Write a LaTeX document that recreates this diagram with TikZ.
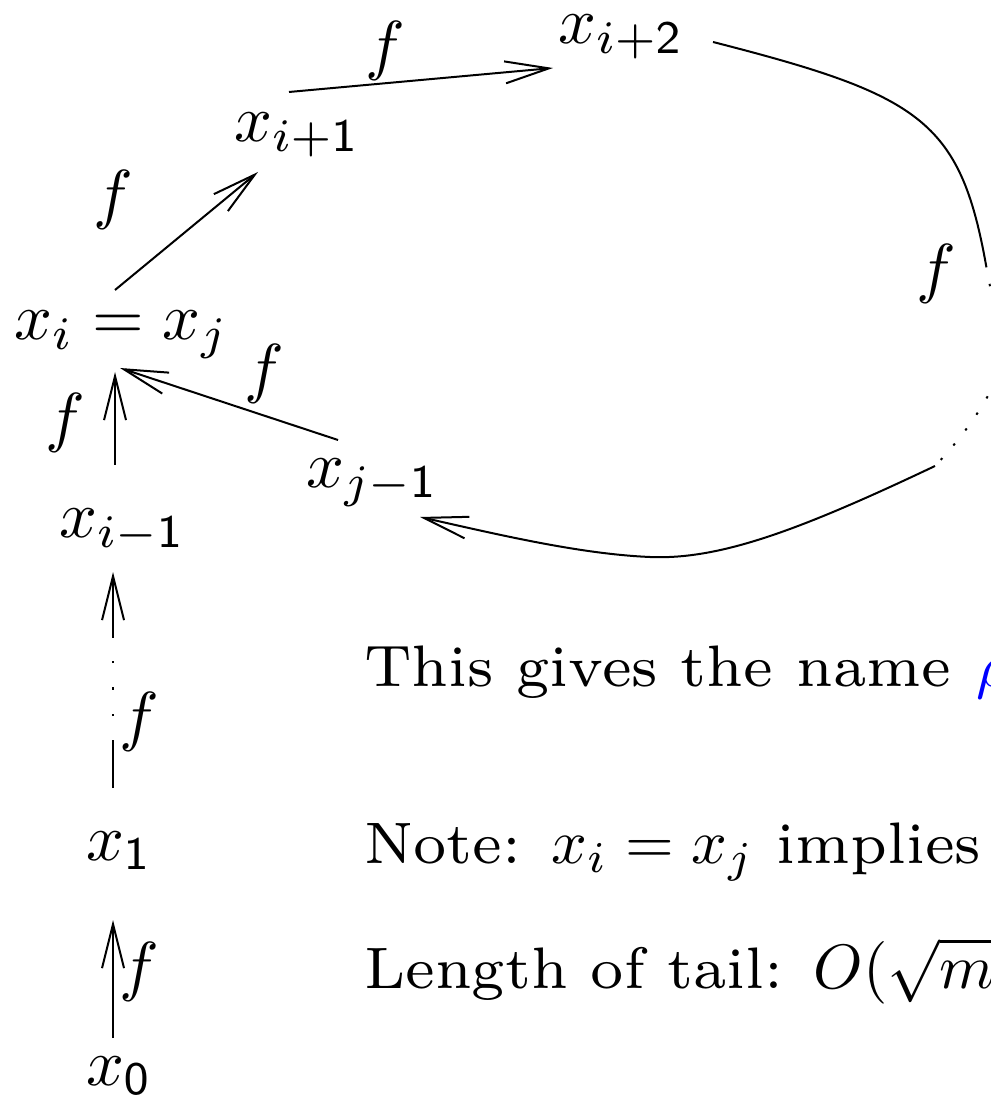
\documentclass[tikz,border=0pt]{standalone}
\usepackage{graphicx}
\usetikzlibrary{arrows.meta}
\newcommand{\bodytxt}[1]{\scalebox{2.09}{\fontsize{7}{8}\selectfont #1}}
\newcommand{\mth}[1]{\scalebox{0.75}{\fontsize{10}{12}\selectfont$#1$}}
\newcommand{\lbl}[1]{\scalebox{1.66}{\fontsize{10}{12}\selectfont $#1$}}
\begin{document}
\begin{tikzpicture}[x=0.25pt,y=-0.25pt, line width=0.5pt,
  arr/.style={-{Straight Barb[length=11pt,width=5.5pt]}},
  lab/.style={inner sep=0pt, anchor=base west},
  fl/.style={inner sep=0pt},
  txt/.style={inner sep=0pt, anchor=base west},
  dotpat/.style={dash pattern=on 0.6pt off 4.2pt}]
\clip (0,0) rectangle (991,1100);
% state nodes
\node[lab] (xi2) at (557,44)   {\lbl{x_{i+\mathsf{2}}}};
\node[lab] (xi1) at (233,142)  {\lbl{x_{i+\mathsf{1}}}};
\node[lab] (xij) at (13,340)   {\lbl{x_i = x_j}};
\node[lab] (xj1) at (305,488)  {\lbl{x_{j-\mathsf{1}}}};
\node[lab] (xim1) at (58,538)  {\lbl{x_{i-\mathsf{1}}}};
\node[lab] (x1) at (85,860)    {\lbl{x_{\mathsf{1}}}};
\node[lab] (x0) at (85,1085)   {\lbl{x_{\mathsf{0}}}};
% f labels
\node[fl] (f1) at (113,200) {\lbl{f}};
\node[fl] (f2) at (385,51)  {\lbl{f}};
\node[fl] (f3) at (936,274) {\lbl{f}};
\node[fl] (f4) at (264,374) {\lbl{f}};
\node[fl] (f5) at (65,423)  {\lbl{f}};
\node[fl] (f6) at (139,722) {\lbl{f}};
\node[fl] (f7) at (139,972) {\lbl{f}};
% connectors
\draw[arr] ([shift={(102,-50)}]xij.base west) -- ([shift={(25,30)}]xi1.base west);
\draw[arr] ([shift={(56,-50)}]xi1.base west) -- ([shift={(-4,24)}]xi2.base west);
\coordinate (r1) at (986,265);
\coordinate (r2) at (935,466);
\draw ([shift={(156,-2)}]xi2.base west) .. controls (920,95) and (960,120) .. (r1);
\draw[dotpat] (r1) .. controls (1000,340) and (1005,360) .. (990,392) .. controls (975,420) and (955,445) .. (r2);
\draw[arr] (r2) .. controls (800,530) and (720,560) .. (650,557) .. controls (580,554) and (500,535) .. ([shift={(115,29)}]xj1.base west);
\draw[arr] ([shift={(33,-48)}]xj1.base west) -- ([shift={(107,28)}]xij.base west);
\draw[arr] ([shift={(57,-73)}]xim1.base west) -- ([shift={(102,32)}]xij.base west);
\draw[arr, dash pattern=on 12pt off 6pt on 0.6pt off 6pt on 0.6pt off 6pt on 0.6pt off 5.8pt on 40pt]
  ([shift={(28,-72)}]x1.base west) -- ([shift={(55,34)}]xim1.base west);
\draw[arr] ([shift={(28,-47)}]x0.base west) -- ([shift={(28,60)}]x1.base west);
% text
\node[txt] (t1) at (363,686) {\bodytxt{This gives the name\hspace{0.3pt} \textcolor{blue}{\mth{\rho}}}};
\node[txt] (t2) at (363,863) {\bodytxt{Note: \mth{x_i = x_j} implies}};
\node[txt] (t3) at (363,988) {\bodytxt{Length of tail: \mth{O(\sqrt{m}}}};
\end{tikzpicture}
\end{document}
